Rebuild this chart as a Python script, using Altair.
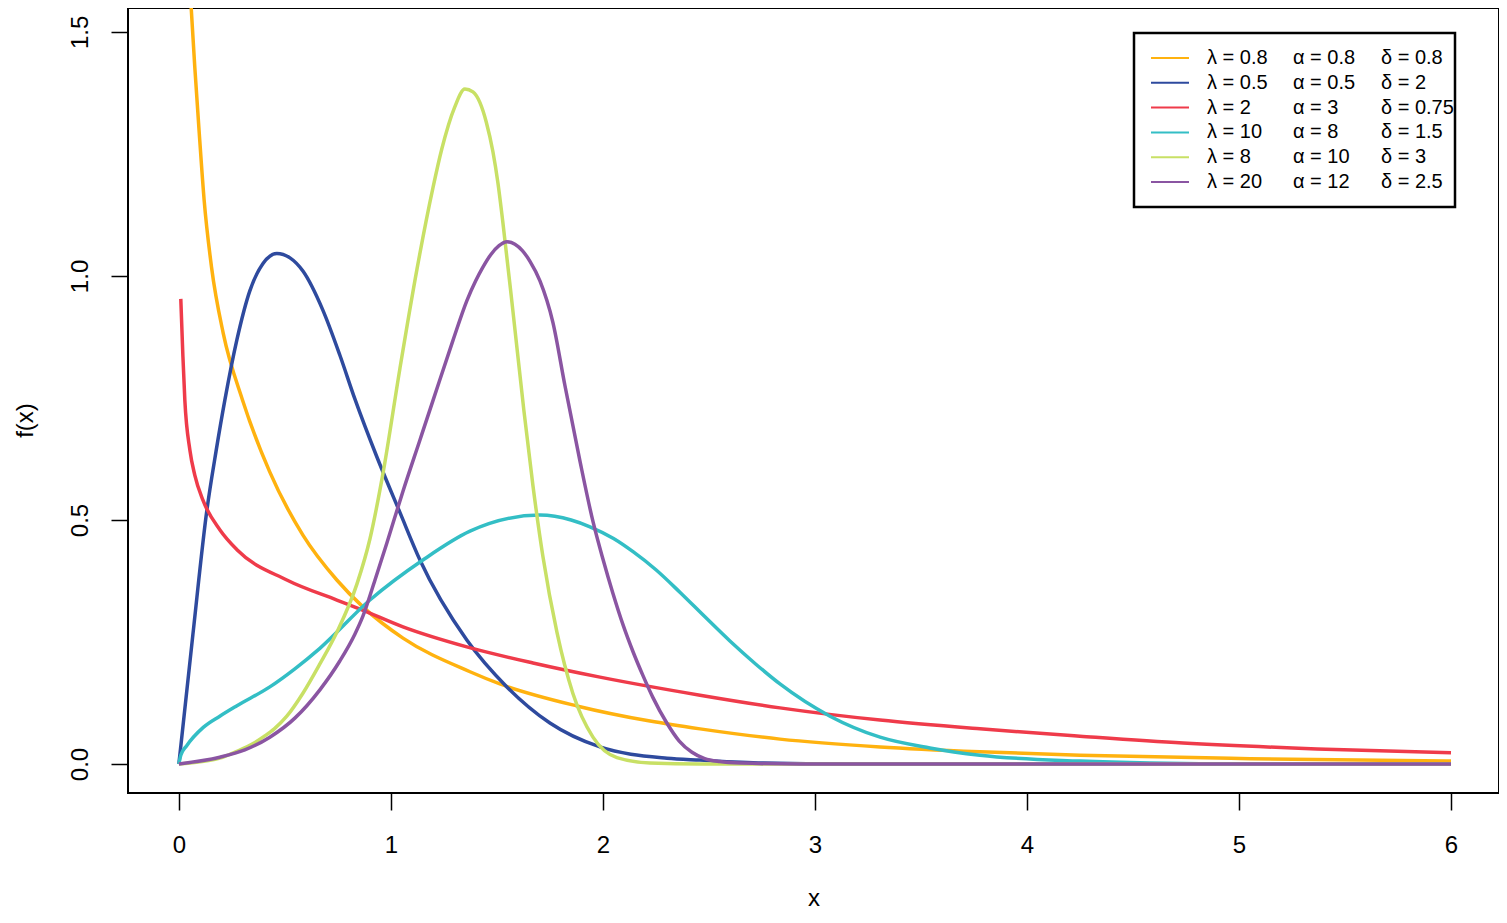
import altair as alt
import pandas as pd

# ---------------- data ----------------
lam = ["0.8", "0.5", "2", "10", "8", "20"]
alp = ["0.8", "0.5", "3", "8", "10", "12"]
dlt = ["0.8", "2", "0.75", "1.5", "3", "2.5"]
series = ["s1", "s2", "s3", "s4", "s5", "s6"]
colors = ["#FFB20F", "#2E4A9E", "#EF3B4A", "#33BEC5", "#C8E065", "#8A55A2"]

x_s1 = [0.050, 0.075, 0.096, 0.119, 0.154, 0.209, 0.300, 0.429, 0.585, 0.745, 0.868, 1.057,
        1.373, 1.514, 1.877, 2.222, 2.458, 2.835, 3.307, 3.778, 4.250, 5.052, 6.0]
y_s1 = [1.607, 1.428, 1.293, 1.156, 1.018, 0.883, 0.746, 0.598, 0.469, 0.377, 0.322, 0.258,
        0.189, 0.164, 0.119, 0.088, 0.072, 0.051, 0.035, 0.025, 0.018, 0.011, 0.006]

x_s2 = [0.0, 0.066, 0.132, 0.175, 0.217, 0.274, 0.335, 0.396, 0.462, 0.524, 0.585, 0.679,
        0.759, 0.830, 0.934, 1.042, 1.137, 1.358, 1.547, 1.750, 1.986, 2.302, 2.458, 2.755,
        3.165, 6.0]
y_s2 = [0.0, 0.265, 0.520, 0.640, 0.746, 0.870, 0.970, 1.025, 1.046, 1.037, 1.010, 0.930,
        0.838, 0.748, 0.629, 0.516, 0.418, 0.254, 0.158, 0.084, 0.035, 0.012, 0.008, 0.002,
        0.0, 0.0]

x_s3 = [0.009, 0.019, 0.028, 0.052, 0.075, 0.113, 0.193, 0.274, 0.509, 0.745, 0.863, 1.057,
        1.358, 1.670, 1.986, 2.458, 2.835, 3.307, 3.778, 4.250, 4.736, 5.368, 6.0]
y_s3 = [0.953, 0.835, 0.746, 0.643, 0.592, 0.541, 0.480, 0.439, 0.377, 0.336, 0.316, 0.281,
        0.240, 0.207, 0.178, 0.141, 0.115, 0.090, 0.072, 0.057, 0.043, 0.031, 0.023]

x_s4 = [0.0, 0.009, 0.036, 0.115, 0.193, 0.272, 0.429, 0.547, 0.665, 0.901, 1.151, 1.373,
        1.703, 1.850, 1.939, 2.050, 2.142, 2.250, 2.363, 2.480, 2.599, 2.720, 2.835, 3.071,
        3.307, 3.542, 3.778, 4.250, 4.580, 5.052, 6.0]
y_s4 = [0.0, 0.018, 0.037, 0.075, 0.098, 0.119, 0.158, 0.195, 0.237, 0.336, 0.418, 0.477,
        0.510, 0.500, 0.486, 0.462, 0.435, 0.398, 0.352, 0.302, 0.252, 0.205, 0.164, 0.098,
        0.055, 0.033, 0.018, 0.006, 0.002, 0.0, 0.0]

x_s5 = [0.0, 0.193, 0.274, 0.350, 0.400, 0.450, 0.509, 0.585, 0.665, 0.745, 0.840, 0.901,
        0.962, 1.042, 1.123, 1.198, 1.240, 1.300, 1.349, 1.387, 1.420, 1.450, 1.481, 1.505,
        1.528, 1.575, 1.627, 1.670, 1.717, 1.783, 1.858, 1.953, 2.066, 2.222, 2.458, 6.0]
y_s5 = [0.0, 0.012, 0.026, 0.042, 0.056, 0.072, 0.098, 0.145, 0.205, 0.270, 0.369, 0.461,
        0.594, 0.809, 1.014, 1.180, 1.260, 1.345, 1.383, 1.377, 1.355, 1.315, 1.255, 1.190,
        1.110, 0.930, 0.725, 0.570, 0.425, 0.270, 0.145, 0.055, 0.013, 0.002, 0.0, 0.0]

x_s6 = [0.0, 0.193, 0.311, 0.429, 0.547, 0.665, 0.759, 0.830, 0.868, 0.925, 0.981, 1.057,
        1.137, 1.198, 1.292, 1.358, 1.400, 1.434, 1.470, 1.510, 1.547, 1.585, 1.620, 1.656,
        1.703, 1.764, 1.821, 1.892, 1.953, 2.000, 2.047, 2.095, 2.142, 2.190, 2.236, 2.300,
        2.360, 2.420, 2.480, 2.550, 2.650, 2.930, 6.0]
y_s6 = [0.0, 0.014, 0.029, 0.055, 0.094, 0.152, 0.211, 0.266, 0.303, 0.377, 0.453, 0.559,
        0.664, 0.744, 0.867, 0.949, 0.990, 1.018, 1.043, 1.062, 1.070, 1.065, 1.052, 1.030,
        0.990, 0.905, 0.775, 0.620, 0.497, 0.420, 0.350, 0.285, 0.230, 0.180, 0.136, 0.085,
        0.047, 0.024, 0.011, 0.005, 0.002, 0.0, 0.0]

xs = [x_s1, x_s2, x_s3, x_s4, x_s5, x_s6]
ys = [y_s1, y_s2, y_s3, y_s4, y_s5, y_s6]

# ---------------- chart ----------------
FONT = "Liberation Sans"
W, H = 1371, 785

x_scale = alt.Scale(domain=[-0.24, 6.2264], nice=False, zero=False)
y_scale = alt.Scale(domain=[-0.0594, 1.549], nice=False, zero=False)

x_axis = alt.Axis(values=[0, 1, 2, 3, 4, 5, 6], format="d", title="x", grid=False,
                  domain=False, tickSize=17, tickWidth=1.5, tickColor="black",
                  labelFont=FONT, labelFontSize=24, labelColor="black",
                  labelBaseline="alphabetic", labelPadding=42, labelFlush=False,
                  titleFont=FONT, titleFontSize=24, titleFontWeight="normal",
                  titleColor="black", titleBaseline="alphabetic", titleY=112)
y_axis = alt.Axis(values=[0, 0.5, 1, 1.5], format=".1f", title="f(x)", grid=False,
                  domain=False, tickSize=17, tickWidth=1.5, tickColor="black",
                  labelFont=FONT, labelFontSize=24, labelColor="black",
                  labelAngle=270, labelAlign="center", labelBaseline="alphabetic",
                  labelPadding=24, labelFlush=False,
                  titleFont=FONT, titleFontSize=24, titleFontWeight="normal",
                  titleColor="black", titleAngle=270, titleAlign="center",
                  titleBaseline="alphabetic", titleX=-96, titleY=412)

line_layers = []
for i in range(6):
    df = pd.DataFrame({"x": xs[i], "y": ys[i]})
    line_layers.append(
        alt.Chart(df).mark_line(color=colors[i], strokeWidth=3.5, clip=True,
                                interpolate="monotone").encode(
            x=alt.X("x:Q", scale=x_scale, axis=x_axis),
            y=alt.Y("y:Q", scale=y_scale, axis=y_axis),
        )
    )
lines = alt.layer(*line_layers)

# ---------------- manual legend ----------------
leg_df = pd.DataFrame({
    "row": list(range(6)),
    "name": series,
    "lam": ["λ = " + v for v in lam],
    "alp": ["α = " + v for v in alp],
    "dlt": ["δ = " + v for v in dlt],
})
row_y = alt.Y("row:Q", scale=alt.Scale(domain=[0, 5], range=[50, 174]), axis=None)

box = alt.Chart(pd.DataFrame({"a": [0]})).mark_rect(
    fill="white", stroke="black", strokeWidth=2.5
).encode(x=alt.value(1006), x2=alt.value(1327), y=alt.value(25), y2=alt.value(199))

samples = alt.Chart(leg_df).mark_rule(strokeWidth=2).encode(
    x=alt.value(1023), x2=alt.value(1061), y=row_y,
    color=alt.Color("name:N", scale=alt.Scale(domain=series, range=colors), legend=None),
)

def col_text(field, xpos):
    return alt.Chart(leg_df).mark_text(
        align="left", baseline="middle", font=FONT, fontSize=20, color="black"
    ).encode(x=alt.value(xpos), y=row_y, text=f"{field}:N")

legend = alt.layer(box, samples, col_text("lam", 1079), col_text("alp", 1165),
                   col_text("dlt", 1253))

chart = alt.layer(lines, legend).resolve_scale(y="independent").properties(
    width=W, height=H,
    padding={"left": 120, "top": 0, "right": 0, "bottom": 120},
    autosize=alt.AutoSizeParams(type="none"),
    background="white",
).configure_view(stroke="black", strokeWidth=2)

chart.save("out.html", embed_options={"renderer": "svg", "actions": False})
